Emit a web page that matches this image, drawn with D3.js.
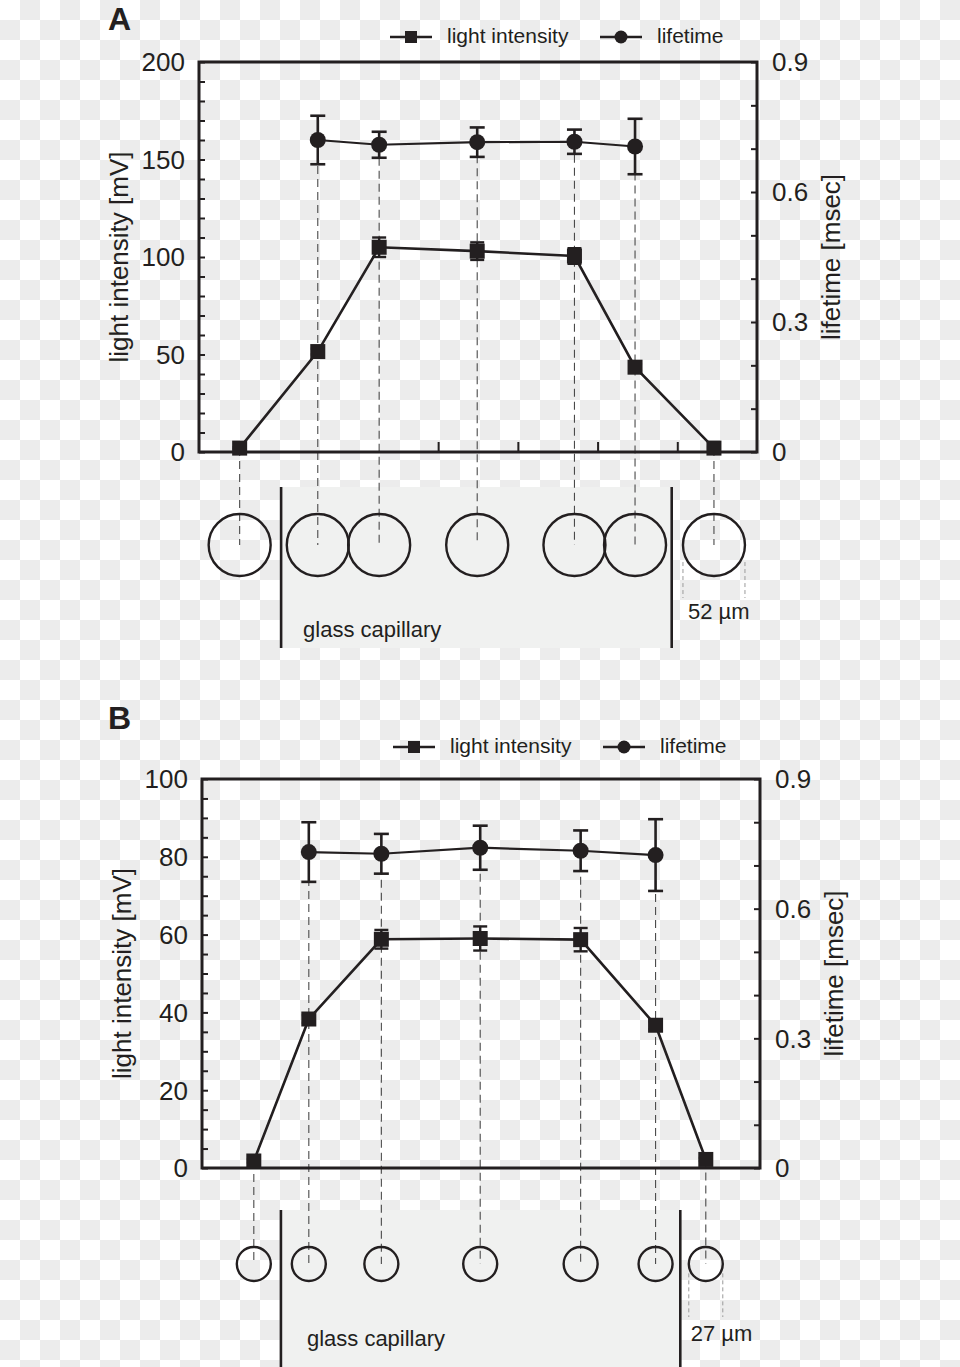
<!DOCTYPE html>
<html>
<head>
<meta charset="utf-8">
<script src="https://cdn.jsdelivr.net/npm/d3@7"></script>
<style>
  html, body { margin: 0; padding: 0; background: #fff; }
  svg { display: block; }
  text { font-family: "Liberation Sans", Arial, Helvetica, sans-serif; fill: #231f20; }
</style>
</head>
<body>
<script>
// ---------------- DATA ----------------
// Panel A
const posA        = [0.51, 1.49, 2.26, 3.49, 4.71, 5.47, 6.46];   // measurement positions (axis units)
const intensityA  = [2, 51.5, 105, 103, 100.5, 43.5, 2];          // light intensity [mV]
const intensityErrA = [0.5, 1.5, 5, 4.5, 4, 1.5, 0.5];
const lifetimeIdxA = [1, 2, 3, 4, 5];                              // positions where lifetime was measured
const lifetimeA   = [0.720, 0.709, 0.715, 0.716, 0.705];          // lifetime [msec]
const lifetimeErrA = [0.056, 0.030, 0.034, 0.028, 0.064];
const leftTicksA  = [0, 50, 100, 150, 200];
const rightTicks  = [0, 0.3, 0.6, 0.9];
const xTicksA     = [3, 4, 5, 6];
const capillaryA  = [1.03, 5.93];
const sizeLabelA  = "52 µm";

// Panel B
const posB        = [0.65, 1.34, 2.25, 3.49, 4.75, 5.69, 6.32];
const intensityB  = [1.8, 38.3, 58.8, 59, 58.7, 36.7, 2.2];
const intensityErrB = [0.4, 1, 2.4, 3.1, 3, 1, 0.4];
const lifetimeIdxB = [1, 2, 3, 4, 5];
const lifetimeB   = [0.731, 0.727, 0.741, 0.734, 0.724];
const lifetimeErrB = [0.069, 0.046, 0.051, 0.047, 0.083];
const leftTicksB  = [0, 20, 40, 60, 80, 100];
const capillaryB  = [0.99, 6.0];
const sizeLabelB  = "27 µm";

const legendLabels = ["light intensity", "lifetime"];
const capillaryLabel = "glass capillary";
const leftTitle = "light intensity [mV]";
const rightTitle = "lifetime [msec]";

// ---------------- DRAW ----------------
const W = 960, H = 1367;
const INK = "#231f20";
const svg = d3.select("body").append("svg").attr("width", W).attr("height", H);

// transparent-checkerboard background as in the reference
const defs = svg.append("defs");
const pat = defs.append("pattern").attr("id", "checker").attr("width", 40).attr("height", 40)
  .attr("patternUnits", "userSpaceOnUse");
pat.append("rect").attr("width", 40).attr("height", 40).attr("fill", "#ffffff");
pat.append("rect").attr("x", 20).attr("y", 0).attr("width", 20).attr("height", 20).attr("fill", "#ececec");
pat.append("rect").attr("x", 0).attr("y", 20).attr("width", 20).attr("height", 20).attr("fill", "#ececec");
svg.append("rect").attr("width", W).attr("height", H).attr("fill", "url(#checker)");

function panel(cfg) {
  const g = svg.append("g");
  const x = d3.scaleLinear().domain([0, 7]).range([cfg.left, cfg.right]);
  const yL = d3.scaleLinear().domain([0, cfg.leftMax]).range([cfg.bottom, cfg.top]);
  const yR = d3.scaleLinear().domain([0, 0.9]).range([cfg.bottom, cfg.top]);

  // panel letter
  g.append("text").attr("x", cfg.letterX).attr("y", cfg.letterY)
    .attr("font-size", 32).attr("font-weight", "bold").text(cfg.letter);

  // capillary region
  const cx0 = x(cfg.capillary[0]), cx1 = x(cfg.capillary[1]);
  g.append("rect").attr("x", cx0).attr("y", cfg.capTop).attr("width", cx1 - cx0)
    .attr("height", cfg.capBottom - cfg.capTop).attr("fill", "#f0f1f0");
  cfg.capillary.forEach(v => {
    g.append("line").attr("x1", x(v)).attr("x2", x(v)).attr("y1", cfg.capTop).attr("y2", cfg.capBottom)
      .attr("stroke", INK).attr("stroke-width", 2.6);
  });
  g.append("text").attr("x", cx0 + cfg.capTextDx).attr("y", cfg.capTextY)
    .attr("font-size", 22).text(capillaryLabel);

  // dashed guide lines from each point down to the cell
  cfg.pos.forEach((p, i) => {
    const li = cfg.lifeIdx.indexOf(i);
    const yStart = li >= 0 ? yR(cfg.life[li]) : yL(cfg.inten[i]);
    g.append("line").attr("x1", x(p)).attr("x2", x(p)).attr("y1", yStart).attr("y2", cfg.cellY)
      .attr("stroke", "#4a4a4a").attr("stroke-width", 1.1).attr("stroke-dasharray", "8,5");
  });

  // cells
  g.selectAll("circle.cell").data(cfg.pos).enter().append("circle")
    .attr("class", "cell").attr("cx", d => x(d)).attr("cy", cfg.cellY).attr("r", cfg.cellR)
    .attr("fill", "none").attr("stroke", INK).attr("stroke-width", 2.4);

  // size annotation on last cell
  const last = x(cfg.pos[cfg.pos.length - 1]);
  [last - cfg.cellR, last + cfg.cellR].forEach(xx => {
    g.append("line").attr("x1", xx).attr("x2", xx).attr("y1", cfg.cellY + cfg.cellR * 0.55)
      .attr("y2", cfg.sizeLineBottom).attr("stroke", "#9a9a9a").attr("stroke-width", 1)
      .attr("stroke-dasharray", "4,3");
  });
  g.append("text").attr("x", last - cfg.cellR + cfg.sizeTextDx).attr("y", cfg.sizeTextY)
    .attr("font-size", 22).text(cfg.sizeLabel);

  // axes frame
  g.append("rect").attr("x", cfg.left).attr("y", cfg.top).attr("width", cfg.right - cfg.left)
    .attr("height", cfg.bottom - cfg.top).attr("fill", "none").attr("stroke", INK).attr("stroke-width", 3);

  // left axis (ticks inward)
  const leftAxis = d3.axisRight(yL).tickValues(d3.range(0, cfg.leftMax + 0.001, cfg.leftMinor))
    .tickSize(6).tickFormat("");
  const la = g.append("g").attr("transform", `translate(${cfg.left},0)`).call(leftAxis);
  la.select(".domain").remove();
  la.selectAll("line").attr("stroke", INK).attr("stroke-width", 2);
  cfg.leftTicks.forEach(t => {
    g.append("text").attr("x", cfg.left - 14).attr("y", yL(t)).attr("dy", "0.36em")
      .attr("text-anchor", "end").attr("font-size", 26).text(t);
  });

  // right axis (ticks inward)
  const rightAxis = d3.axisLeft(yR).tickValues(d3.range(0, 0.9001, 0.1)).tickSize(6).tickFormat("");
  const ra = g.append("g").attr("transform", `translate(${cfg.right},0)`).call(rightAxis);
  ra.select(".domain").remove();
  ra.selectAll("line").attr("stroke", INK).attr("stroke-width", 2);
  rightTicks.forEach(t => {
    g.append("text").attr("x", cfg.right + 15).attr("y", yR(t)).attr("dy", "0.36em")
      .attr("font-size", 26).text(t === 0 ? "0" : d3.format(".1f")(t));
  });

  // bottom axis ticks (inward)
  if (cfg.xTicks.length) {
    const xa = g.append("g").attr("transform", `translate(0,${cfg.bottom})`)
      .call(d3.axisTop(x).tickValues(cfg.xTicks).tickSize(10).tickFormat(""));
    xa.select(".domain").remove();
    xa.selectAll("line").attr("stroke", INK).attr("stroke-width", 2);
  }

  // axis titles
  g.append("text").attr("transform", `translate(${cfg.leftTitleX},${(cfg.top + cfg.bottom) / 2}) rotate(-90)`)
    .attr("text-anchor", "middle").attr("font-size", 26).text(leftTitle);
  g.append("text").attr("transform", `translate(${cfg.rightTitleX},${(cfg.top + cfg.bottom) / 2}) rotate(-90)`)
    .attr("text-anchor", "middle").attr("font-size", 26).text(rightTitle);

  // intensity series
  const lineI = d3.line().x((d, i) => x(cfg.pos[i])).y(d => yL(d));
  g.append("path").datum(cfg.inten).attr("d", lineI).attr("fill", "none")
    .attr("stroke", INK).attr("stroke-width", 2.6);
  cfg.inten.forEach((v, i) => {
    const e = cfg.intenErr[i];
    const xx = x(cfg.pos[i]);
    g.append("line").attr("x1", xx).attr("x2", xx).attr("y1", yL(v - e)).attr("y2", yL(v + e))
      .attr("stroke", INK).attr("stroke-width", 2.4);
    [v - e, v + e].forEach(c => g.append("line").attr("x1", xx - 7).attr("x2", xx + 7)
      .attr("y1", yL(c)).attr("y2", yL(c)).attr("stroke", INK).attr("stroke-width", 2.4));
  });
  g.selectAll("rect.sq").data(cfg.inten).enter().append("rect").attr("class", "sq")
    .attr("x", (d, i) => x(cfg.pos[i]) - 7.5).attr("y", d => yL(d) - 7.5)
    .attr("width", 15).attr("height", 15).attr("fill", INK);

  // lifetime series
  const lp = cfg.lifeIdx.map(i => cfg.pos[i]);
  const lineL = d3.line().x((d, i) => x(lp[i])).y(d => yR(d));
  g.append("path").datum(cfg.life).attr("d", lineL).attr("fill", "none")
    .attr("stroke", INK).attr("stroke-width", 2.2);
  cfg.life.forEach((v, i) => {
    const e = cfg.lifeErr[i];
    const xx = x(lp[i]);
    g.append("line").attr("x1", xx).attr("x2", xx).attr("y1", yR(v - e)).attr("y2", yR(v + e))
      .attr("stroke", INK).attr("stroke-width", 2.6);
    [v - e, v + e].forEach(c => g.append("line").attr("x1", xx - 7.5).attr("x2", xx + 7.5)
      .attr("y1", yR(c)).attr("y2", yR(c)).attr("stroke", INK).attr("stroke-width", 2.6));
  });
  g.selectAll("circle.lt").data(cfg.life).enter().append("circle").attr("class", "lt")
    .attr("cx", (d, i) => x(lp[i])).attr("cy", d => yR(d)).attr("r", 8).attr("fill", INK);

  // legend
  const ly = cfg.legendY;
  g.append("line").attr("x1", cfg.legX[0]).attr("x2", cfg.legX[0] + 42).attr("y1", ly).attr("y2", ly)
    .attr("stroke", INK).attr("stroke-width", 2.4);
  g.append("rect").attr("x", cfg.legX[0] + 15).attr("y", ly - 6).attr("width", 12).attr("height", 12).attr("fill", INK);
  g.append("text").attr("x", cfg.legX[0] + 57).attr("y", ly).attr("dy", "0.3em").attr("font-size", 21).text(legendLabels[0]);
  g.append("line").attr("x1", cfg.legX[1]).attr("x2", cfg.legX[1] + 42).attr("y1", ly).attr("y2", ly)
    .attr("stroke", INK).attr("stroke-width", 2.4);
  g.append("circle").attr("cx", cfg.legX[1] + 21).attr("cy", ly).attr("r", 6.5).attr("fill", INK);
  g.append("text").attr("x", cfg.legX[1] + 57).attr("y", ly).attr("dy", "0.3em").attr("font-size", 21).text(legendLabels[1]);
}

panel({
  letter: "A", letterX: 108, letterY: 30,
  left: 199, right: 757, top: 62, bottom: 452,
  leftMax: 200, leftMinor: 10, leftTicks: leftTicksA, xTicks: xTicksA,
  pos: posA, inten: intensityA, intenErr: intensityErrA,
  lifeIdx: lifetimeIdxA, life: lifetimeA, lifeErr: lifetimeErrA,
  capillary: capillaryA, capTop: 487, capBottom: 648, capTextDx: 22, capTextY: 637,
  cellY: 545, cellR: 31, sizeLineBottom: 598, sizeLabel: sizeLabelA, sizeTextDx: 5, sizeTextY: 619,
  leftTitleX: 128, rightTitleX: 840,
  legendY: 37, legX: [390, 600]
});

panel({
  letter: "B", letterX: 108, letterY: 729,
  left: 202, right: 760, top: 779, bottom: 1168,
  leftMax: 100, leftMinor: 5, leftTicks: leftTicksB, xTicks: [],
  pos: posB, inten: intensityB, intenErr: intensityErrB,
  lifeIdx: lifetimeIdxB, life: lifetimeB, lifeErr: lifetimeErrB,
  capillary: capillaryB, capTop: 1210, capBottom: 1367, capTextDx: 26, capTextY: 1346,
  cellY: 1264, cellR: 17, sizeLineBottom: 1317, sizeLabel: sizeLabelB, sizeTextDx: 2, sizeTextY: 1341,
  leftTitleX: 131, rightTitleX: 843,
  legendY: 747, legX: [393, 603]
});
</script>
</body>
</html>
